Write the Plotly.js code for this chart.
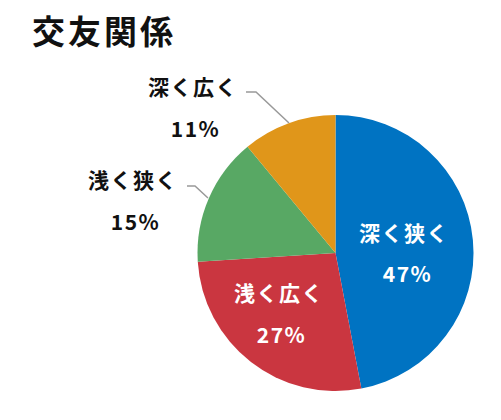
<!DOCTYPE html>
<html>
<head>
<meta charset="utf-8">
<script src="https://cdn.plot.ly/plotly-3.0.1.min.js"></script>
<style>
  html, body { margin: 0; padding: 0; background: #fff; }
  #chart { width: 501px; height: 420px; }
  /* slightly looser tracking for the slice labels and the heading */
  #chart .annotation-text { letter-spacing: 1.5px; }
  #chart .gtitle { letter-spacing: 3px; }
</style>
</head>
<body>
<div id="chart"></div>
<script>
// 交友関係の内訳
const categories = ['深く狭く', '浅く広く', '浅く狭く', '深く広く'];
const shares = [47, 27, 15, 11];
const sliceColors = ['#0073C2', '#CA3640', '#58A864', '#E0961A'];

const W = 501, H = 420;
const px = x => x / W;
const py = y => 1 - y / H;

// pie circle: centre (335.5, 253), radius 138 px
const cx = 335.5, cy = 253, r = 138;

const FONT = '"Noto Sans CJK JP", "Noto Sans", sans-serif';

// label placement (pixel centres of name / percent lines) and text colour
const labelPos = [
  { nx: 404, ny: 232, vx: 407, vy: 273, color: '#ffffff' },
  { nx: 279, ny: 292, vx: 281, vy: 334, color: '#ffffff' },
  { nx: 133, ny: 179, vx: 135, vy: 221, color: '#111111' },
  { nx: 193, ny: 86,  vx: 195, vy: 128, color: '#111111' }
];

const annotations = [];
categories.forEach((name, i) => {
  const p = labelPos[i];
  annotations.push({
    xref: 'paper', yref: 'paper', x: px(p.nx), y: py(p.ny),
    xanchor: 'center', yanchor: 'middle', showarrow: false,
    text: '<b>' + name + '</b>',
    font: { family: FONT, size: 21, color: p.color }
  });
  annotations.push({
    xref: 'paper', yref: 'paper', x: px(p.vx), y: py(p.vy),
    xanchor: 'center', yanchor: 'middle', showarrow: false,
    text: '<b>' + shares[i] + '%</b>',
    font: { family: FONT, size: 21, color: p.color }
  });
});

// leader lines for the two outside labels
const leaders = [
  [[187, 186], [195, 186], [208, 198]],
  [[246, 92], [256, 92], [289, 123]]
];
const shapes = leaders.map(pts => ({
  type: 'path', xref: 'paper', yref: 'paper',
  path: pts.map((p, k) => (k ? 'L' : 'M') + px(p[0]) + ',' + py(p[1])).join(' '),
  line: { color: '#999999', width: 1.5 }
}));

const trace = {
  type: 'pie',
  labels: categories,
  values: shares,
  sort: false,
  direction: 'clockwise',
  rotation: 0,
  textinfo: 'none',
  hoverinfo: 'label+percent',
  marker: { colors: sliceColors, line: { width: 0 } },
  domain: { x: [px(cx - r), px(cx + r)], y: [py(cy + r), py(cy - r)] },
  showlegend: false
};

const layout = {
  width: W, height: H,
  margin: { l: 0, r: 0, t: 0, b: 0 },
  paper_bgcolor: '#ffffff',
  title: {
    text: '<b>交友関係</b>',
    x: px(32), xanchor: 'left', xref: 'paper',
    y: py(32), yanchor: 'middle', yref: 'paper',
    font: { family: FONT, size: 33, color: '#111111' }
  },
  annotations: annotations,
  shapes: shapes
};

Plotly.newPlot('chart', [trace], layout, { displayModeBar: false, staticPlot: true });
</script>
</body>
</html>
